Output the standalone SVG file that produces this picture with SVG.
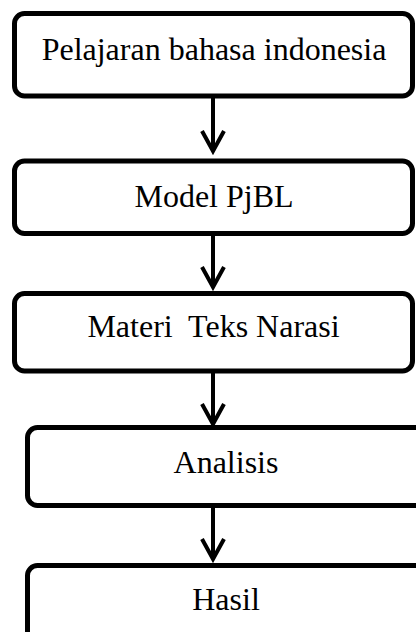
<svg xmlns="http://www.w3.org/2000/svg" width="416" height="632" viewBox="0 0 416 632">
<style>
.box{fill:#fff;stroke:#000;stroke-width:5}
.lbl{font-family:"Liberation Serif","Times New Roman",serif;font-size:32px;fill:#000;text-anchor:middle;white-space:pre}
.con{fill:none;stroke:#000;stroke-width:4}
</style>
<rect width="416" height="632" fill="#fff"/>
<g id="n1"><rect class="box" x="14.5" y="13.5" width="398" height="82.5" rx="10"/><text class="lbl" x="214" y="60">Pelajaran bahasa indonesia</text></g>
<g id="n2"><rect class="box" x="14.5" y="161" width="398" height="72.5" rx="10"/><text class="lbl" x="214" y="207">Model PjBL</text></g>
<g id="n3"><rect class="box" x="14.5" y="293.5" width="398" height="77.5" rx="10"/><text class="lbl" x="213.5" y="337" xml:space="preserve">Materi  Teks Narasi</text></g>
<g id="n4"><rect class="box" x="27.5" y="427.5" width="398" height="78" rx="10"/><text class="lbl" x="226" y="473">Analisis</text></g>
<g id="n5"><rect class="box" x="27.5" y="565.5" width="398" height="80" rx="10"/><text class="lbl" x="226" y="610">Hasil</text></g>
<g id="connectors">
<path class="con" d="M213 98V150M202 131L213 151L224 131"/>
<path class="con" d="M213 236V286M202 267L213 287L224 267"/>
<path class="con" d="M213 373V423M202 404L213 424L224 404"/>
<path class="con" d="M213 508V558M202 539L213 559L224 539"/>
</g>
</svg>
